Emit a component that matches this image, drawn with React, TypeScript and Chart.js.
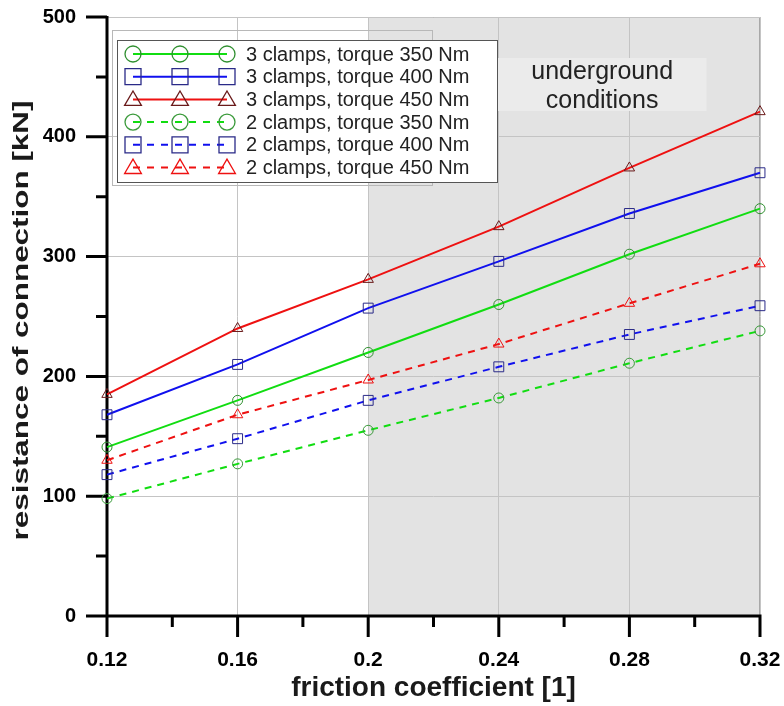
import React, { useEffect, useRef } from "react";
import { Chart, registerables } from "chart.js";

Chart.register(...registerables);

const frictionCoefficients = [0.12, 0.16, 0.2, 0.24, 0.28, 0.32];
const clamps3Torque350 = [141, 180, 220, 260, 302, 340];
const clamps3Torque400 = [168, 210, 257, 296, 336, 370];
const clamps3Torque450 = [185, 240, 281, 325, 374, 421];
const clamps2Torque350 = [98, 127, 155, 182, 211, 238];
const clamps2Torque400 = [118, 148, 180, 208, 235, 259];
const clamps2Torque450 = [130, 168, 197, 227, 261, 294];
const seriesLabels = [
  "3 clamps, torque 350 Nm",
  "3 clamps, torque 400 Nm",
  "3 clamps, torque 450 Nm",
  "2 clamps, torque 350 Nm",
  "2 clamps, torque 400 Nm",
  "2 clamps, torque 450 Nm",
];
const xTicks = [0.12, 0.16, 0.2, 0.24, 0.28, 0.32];
const xTickLabels = ["0.12", "0.16", "0.2", "0.24", "0.28", "0.32"];
const yTicks = [0, 100, 200, 300, 400, 500];
const undergroundStart = 0.2;
const annotationLines = ["underground", "conditions"];
const xTitle = "friction coefficient [1]";
const yTitle = "resistance of connection [kN]";

const FONT = "'Liberation Sans', Arial, Helvetica, sans-serif";

type Style = {
  line: string;
  marker: string;
  shape: "circle" | "rect" | "triangle";
  dashed: boolean;
  radius: number;
};

const styles: Style[] = [
  { line: "#11dd11", marker: "#2f8f2f", shape: "circle", dashed: false, radius: 5 },
  { line: "#1010ee", marker: "#2a2a88", shape: "rect", dashed: false, radius: 7 },
  { line: "#ee1111", marker: "#6a1a1a", shape: "triangle", dashed: false, radius: 6 },
  { line: "#11dd11", marker: "#3a9a3a", shape: "circle", dashed: true, radius: 5 },
  { line: "#1010ee", marker: "#2a2a88", shape: "rect", dashed: true, radius: 7 },
  { line: "#ee1111", marker: "#ee1111", shape: "triangle", dashed: true, radius: 6 },
];

const seriesValues = [
  clamps3Torque350,
  clamps3Torque400,
  clamps3Torque450,
  clamps2Torque350,
  clamps2Torque400,
  clamps2Torque450,
];

function drawMarker(ctx: CanvasRenderingContext2D, shape: string, x: number, y: number, s: number) {
  ctx.beginPath();
  if (shape === "circle") {
    ctx.arc(x, y, s, 0, Math.PI * 2);
  } else if (shape === "rect") {
    ctx.rect(x - s, y - s, 2 * s, 2 * s);
  } else {
    ctx.moveTo(x, y - s * 1.05);
    ctx.lineTo(x + s * 1.05, y + s * 0.75);
    ctx.lineTo(x - s * 1.05, y + s * 0.75);
    ctx.closePath();
  }
  ctx.stroke();
}

const decorPlugin = {
  id: "decor",
  beforeDraw(chart: any) {
    const { ctx, chartArea, scales } = chart;
    const xs = scales.x;
    ctx.save();
    ctx.fillStyle = "#ffffff";
    ctx.fillRect(0, 0, chart.width, chart.height);
    const sx = xs.getPixelForValue(undergroundStart);
    ctx.fillStyle = "#e3e3e3";
    ctx.fillRect(sx, chartArea.top, chartArea.right - sx, chartArea.bottom - chartArea.top);
    ctx.strokeStyle = "#a8a8a8";
    ctx.lineWidth = 1;
    ctx.beginPath();
    ctx.moveTo(sx, chartArea.top + 0.5);
    ctx.lineTo(chartArea.right - 0.5, chartArea.top + 0.5);
    ctx.lineTo(chartArea.right - 0.5, chartArea.bottom);
    ctx.stroke();
    ctx.restore();
  },
  beforeDatasetsDraw(chart: any) {
    const { ctx, chartArea, scales } = chart;
    const xs = scales.x;
    const ys = scales.y;
    ctx.save();
    // annotation box
    const bx = xs.getPixelForValue(0.2397);
    const bx2 = xs.getPixelForValue(0.3036);
    ctx.fillStyle = "#ebebeb";
    ctx.fillRect(bx, 58, bx2 - bx, 53);
    ctx.fillStyle = "#222222";
    ctx.font = `25px ${FONT}`;
    ctx.textAlign = "center";
    ctx.textBaseline = "middle";
    const cx = (bx + bx2) / 2;
    ctx.fillText(annotationLines[0], cx, 72);
    ctx.fillText(annotationLines[1], cx, 101);

    // y axis title (elongated along its direction as in the original)
    ctx.save();
    ctx.translate(22, (chartArea.top + chartArea.bottom) / 2 + 4);
    ctx.rotate(-Math.PI / 2);
    ctx.font = `bold 22px ${FONT}`;
    const w = ctx.measureText(yTitle).width;
    ctx.scale(440 / w, 1);
    ctx.fillStyle = "#1a1a1a";
    ctx.textAlign = "center";
    ctx.textBaseline = "middle";
    ctx.fillText(yTitle, 0, 0);
    ctx.restore();

    // axes
    ctx.strokeStyle = "#000000";
    ctx.lineWidth = 3;
    ctx.lineCap = "butt";
    ctx.beginPath();
    ctx.moveTo(chartArea.left, chartArea.top - 1);
    ctx.lineTo(chartArea.left, chartArea.bottom + 1.5);
    ctx.moveTo(chartArea.left - 1.5, chartArea.bottom);
    ctx.lineTo(chartArea.right + 1.5, chartArea.bottom);
    for (let v = 0.12; v <= 0.3201; v += 0.02) {
      const px = xs.getPixelForValue(v);
      const major = Math.round(v * 100) % 4 === 0;
      ctx.moveTo(px, chartArea.bottom);
      ctx.lineTo(px, chartArea.bottom + (major ? 21 : 11));
    }
    for (let v = 0; v <= 500; v += 50) {
      const py = ys.getPixelForValue(v);
      const major = v % 100 === 0;
      ctx.moveTo(chartArea.left, py);
      ctx.lineTo(chartArea.left - (major ? 21 : 11), py);
    }
    ctx.stroke();
    ctx.restore();
  },
  afterDatasetsDraw(chart: any) {
    const { ctx } = chart;
    ctx.save();
    // faint frame behind legend
    ctx.strokeStyle = "#b8b8b8";
    ctx.lineWidth = 1;
    ctx.strokeRect(112.5, 30.5, 320, 155);
    // legend box
    const lx = 117, ly = 40, lw = 380, lh = 142;
    ctx.fillStyle = "#ffffff";
    ctx.fillRect(lx, ly, lw, lh);
    ctx.strokeStyle = "#555555";
    ctx.strokeRect(lx + 0.5, ly + 0.5, lw, lh);
    ctx.font = `20px ${FONT}`;
    ctx.textAlign = "left";
    ctx.textBaseline = "middle";
    seriesLabels.forEach((label, i) => {
      const st = styles[i];
      const y = 54 + i * 22.7;
      ctx.strokeStyle = st.line;
      ctx.lineWidth = 2;
      ctx.setLineDash(st.dashed ? [7, 7] : []);
      ctx.beginPath();
      ctx.moveTo(133, y);
      ctx.lineTo(227, y);
      ctx.stroke();
      ctx.setLineDash([]);
      ctx.strokeStyle = st.marker;
      ctx.lineWidth = 1.3;
      [133, 180, 227].forEach((mx) => drawMarker(ctx, st.shape, mx, y, 8));
      ctx.fillStyle = "#222222";
      ctx.fillText(label, 246, y + 1);
    });
    ctx.restore();
  },
};

export default function App() {
  const canvasRef = useRef<HTMLCanvasElement | null>(null);

  useEffect(() => {
    if (!canvasRef.current) return;
    const datasets = seriesValues.map((vals, i) => {
      const st = styles[i];
      return {
        label: seriesLabels[i],
        data: frictionCoefficients.map((x, j) => ({ x, y: vals[j] })),
        borderColor: st.line,
        borderWidth: 2,
        borderDash: st.dashed ? [7, 6] : [],
        pointStyle: st.shape,
        pointRadius: st.radius,
        pointBorderColor: st.marker,
        pointBorderWidth: 1,
        pointBackgroundColor: "rgba(0,0,0,0)",
        fill: false,
        tension: 0,
        clip: false,
      };
    });
    const chart = new Chart(canvasRef.current, {
      type: "line",
      data: { datasets },
      plugins: [decorPlugin],
      options: {
        animation: false,
        responsive: false,
        maintainAspectRatio: false,
        layout: { padding: { top: 17, right: 24, left: 0, bottom: 0 } },
        plugins: { legend: { display: false }, tooltip: { enabled: false } },
        scales: {
          x: {
            type: "linear",
            min: 0.12,
            max: 0.32,
            afterFit: (s: any) => {
              s.height = 90;
              s.paddingLeft = 0;
              s.paddingRight = 0;
              s.paddingTop = 0;
              s.paddingBottom = 0;
            },
            afterBuildTicks: (s: any) => {
              s.ticks = xTicks.map((v) => ({ value: v }));
            },
            ticks: {
              callback: (v: any) => {
                const idx = xTicks.findIndex((t) => Math.abs(t - v) < 1e-6);
                return idx >= 0 ? xTickLabels[idx] : "";
              },
              color: "#000000",
              font: { family: FONT, size: 21, weight: "bold" },
              padding: 32,
              maxRotation: 0,
              autoSkip: false,
            },
            grid: { color: "#c4c4c4", lineWidth: 1, drawTicks: false },
            border: { display: false },
            title: {
              display: true,
              text: xTitle,
              color: "#1a1a1a",
              font: { family: FONT, size: 28, weight: "bold" },
              padding: { top: 0, bottom: 1 },
            },
          },
          y: {
            type: "linear",
            min: 0,
            max: 500,
            afterFit: (s: any) => {
              s.width = 107;
              s.paddingLeft = 0;
              s.paddingRight = 0;
              s.paddingTop = 0;
              s.paddingBottom = 0;
            },
            afterBuildTicks: (s: any) => {
              s.ticks = yTicks.map((v) => ({ value: v }));
            },
            ticks: {
              color: "#000000",
              font: { family: FONT, size: 20, weight: "bold" },
              padding: 31,
            },
            grid: { color: "#c4c4c4", lineWidth: 1, drawTicks: false },
            border: { display: false },
            title: { display: false },
          },
        },
      },
    });
    return () => chart.destroy();
  }, []);

  return (
    <div style={{ position: "fixed", left: 0, top: 0, width: 784, height: 706, background: "#ffffff" }}>
      <canvas ref={canvasRef} width={784} height={706} style={{ display: "block", width: 784, height: 706 }} />
    </div>
  );
}
